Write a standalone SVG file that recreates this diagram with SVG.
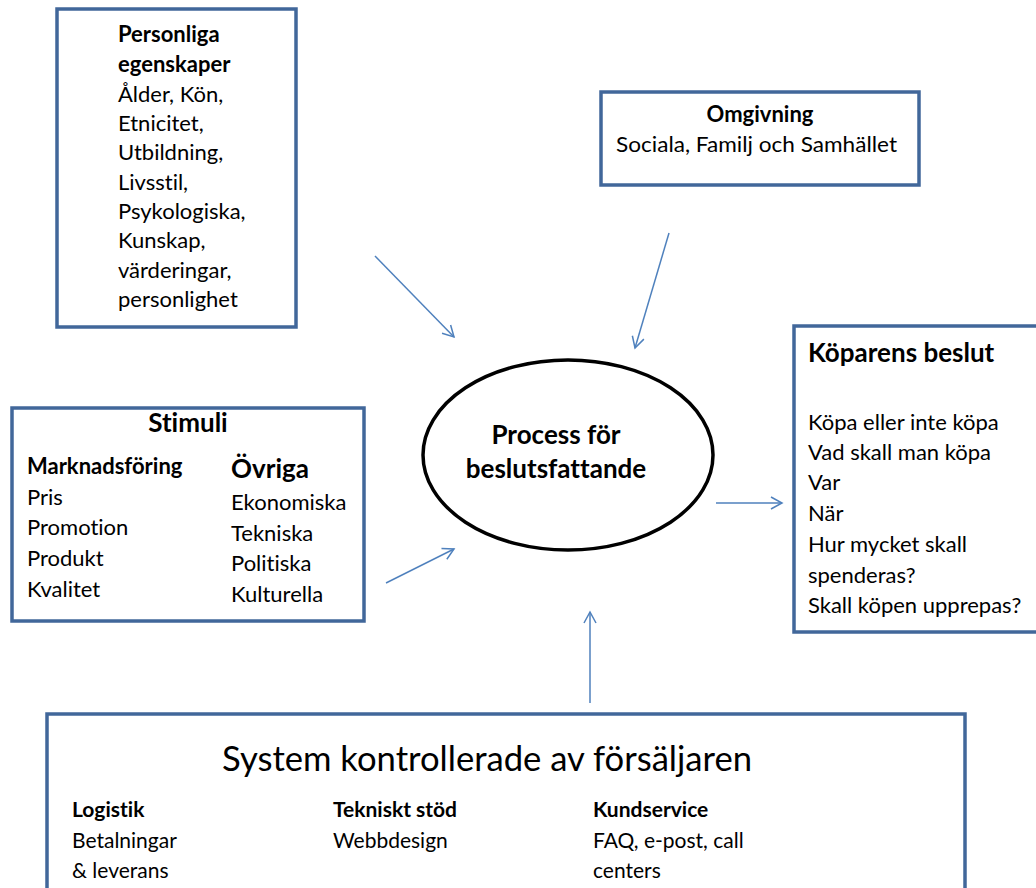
<svg xmlns="http://www.w3.org/2000/svg" width="1036" height="888" viewBox="0 0 1036 888">
<style>
.box{fill:#fff;stroke:#41679a;stroke-width:3.5}
text{font-family:Lato,"Open Sans","Liberation Sans",sans-serif;fill:#000;font-variant-ligatures:none}
.t{font-size:22px}
.b{font-size:22px;font-weight:bold}
.h{font-size:26px;font-weight:bold}
.s{font-size:21px}
.sb{font-size:21px;font-weight:bold}
.c{stroke:#4f81bd;stroke-width:1.5;fill:none}
</style>
<defs>
<marker id="ah" markerWidth="14" markerHeight="14" refX="12" refY="7" orient="auto" markerUnits="userSpaceOnUse">
<path d="M1,1 L12,7 L1,13" fill="none" stroke="#4f81bd" stroke-width="1.5"/>
</marker>
</defs>
<rect width="1036" height="888" fill="#fff"/>
<g id="personliga">
<rect class="box" x="57" y="9" width="239" height="318"/>
<text class="b" x="118" y="42">Personliga</text>
<text class="b" x="118" y="72">egenskaper</text>
<text class="t" x="118" y="102">Ålder, Kön,</text>
<text class="t" x="118" y="131">Etnicitet,</text>
<text class="t" x="118" y="160">Utbildning,</text>
<text class="t" x="118" y="190">Livsstil,</text>
<text class="t" x="118" y="219">Psykologiska,</text>
<text class="t" x="118" y="248">Kunskap,</text>
<text class="t" x="118" y="278">värderingar,</text>
<text class="t" x="118" y="307">personlighet</text>
</g>
<g id="omgivning">
<rect class="box" x="601" y="92" width="318" height="93"/>
<text class="b" x="760" y="122" text-anchor="middle">Omgivning</text>
<text class="t" x="616" y="152" textLength="281" lengthAdjust="spacingAndGlyphs">Sociala, Familj och Samhället</text>
</g>
<g id="koparens">
<rect class="box" x="794" y="326" width="250" height="306"/>
<text class="h" x="808" y="362">Köparens beslut</text>
<text class="t" x="808" y="430">Köpa eller inte köpa</text>
<text class="t" x="808" y="460">Vad skall man köpa</text>
<text class="t" x="808" y="490">Var</text>
<text class="t" x="808" y="521">När</text>
<text class="t" x="808" y="552">Hur mycket skall</text>
<text class="t" x="808" y="583">spenderas?</text>
<text class="t" x="808" y="613">Skall köpen upprepas?</text>
</g>
<g id="stimuli">
<rect class="box" x="12" y="408" width="352" height="213"/>
<text class="h" x="188" y="432" text-anchor="middle">Stimuli</text>
<text class="b" x="27" y="474">Marknadsföring</text>
<text class="t" x="27" y="505">Pris</text>
<text class="t" x="27" y="535">Promotion</text>
<text class="t" x="27" y="566">Produkt</text>
<text class="t" x="27" y="597">Kvalitet</text>
<text class="h" x="231" y="478">Övriga</text>
<text class="t" x="231" y="510">Ekonomiska</text>
<text class="t" x="231" y="541">Tekniska</text>
<text class="t" x="231" y="571">Politiska</text>
<text class="t" x="231" y="602">Kulturella</text>
</g>
<g id="process">
<ellipse cx="568" cy="455" rx="145" ry="95" fill="#fff" stroke="#000" stroke-width="3.5"/>
<text class="h" x="556" y="444" text-anchor="middle">Process för</text>
<text class="h" x="556" y="478" text-anchor="middle">beslutsfattande</text>
</g>
<g id="system">
<rect class="box" x="47" y="714" width="918" height="190"/>
<text x="487" y="771" text-anchor="middle" font-size="34" textLength="530" lengthAdjust="spacingAndGlyphs">System kontrollerade av försäljaren</text>
<text class="sb" x="72" y="817">Logistik</text>
<text class="s" x="72" y="848">Betalningar</text>
<text class="s" x="72" y="878">&amp; leverans</text>
<text class="sb" x="333" y="817">Tekniskt stöd</text>
<text class="s" x="333" y="848">Webbdesign</text>
<text class="sb" x="593" y="817">Kundservice</text>
<text class="s" x="593" y="848">FAQ, e-post, call</text>
<text class="s" x="593" y="878">centers</text>
</g>
<g id="connectors">
<line class="c" x1="375" y1="256" x2="454" y2="337" marker-end="url(#ah)"/>
<line class="c" x1="669" y1="233" x2="635" y2="348" marker-end="url(#ah)"/>
<line class="c" x1="386" y1="583" x2="454" y2="549" marker-end="url(#ah)"/>
<line class="c" x1="716" y1="503" x2="782" y2="503" marker-end="url(#ah)"/>
<line class="c" x1="590" y1="703" x2="590" y2="612" marker-end="url(#ah)"/>
</g>
</svg>
